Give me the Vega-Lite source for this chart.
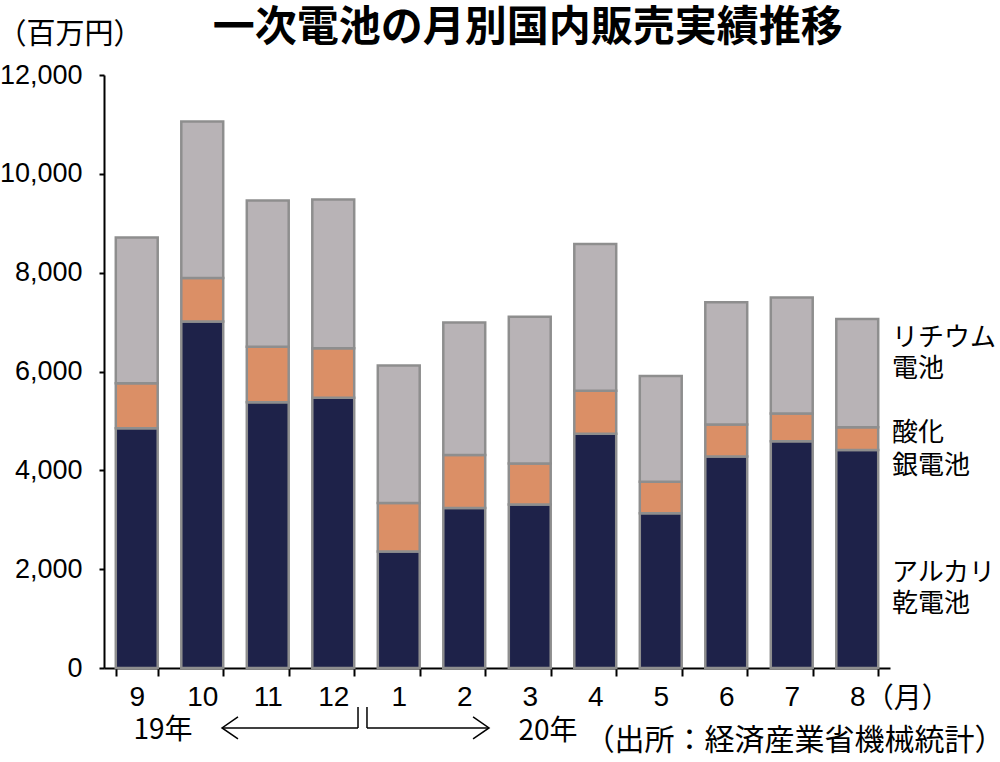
{
  "$schema": "https://vega.github.io/schema/vega-lite/v6.json",
  "width": 786,
  "height": 593,
  "autosize": "none",
  "padding": {"left": 104, "top": 75, "right": 110, "bottom": 94},
  "background": "white",
  "config": {
    "view": {"stroke": null},
    "axis": {
      "domainColor": "black",
      "domainWidth": 2,
      "tickColor": "black",
      "tickWidth": 2,
      "labelColor": "black",
      "grid": false
    }
  },
  "datasets": {
    "bars": [
      {"month": "9", "type": "アルカリ乾電池", "k": 1, "value": 4850},
      {"month": "9", "type": "酸化銀電池", "k": 2, "value": 910},
      {"month": "9", "type": "リチウム電池", "k": 3, "value": 2950},
      {"month": "10", "type": "アルカリ乾電池", "k": 1, "value": 7010},
      {"month": "10", "type": "酸化銀電池", "k": 2, "value": 880},
      {"month": "10", "type": "リチウム電池", "k": 3, "value": 3170},
      {"month": "11", "type": "アルカリ乾電池", "k": 1, "value": 5380},
      {"month": "11", "type": "酸化銀電池", "k": 2, "value": 1120},
      {"month": "11", "type": "リチウム電池", "k": 3, "value": 2960},
      {"month": "12", "type": "アルカリ乾電池", "k": 1, "value": 5470},
      {"month": "12", "type": "酸化銀電池", "k": 2, "value": 1000},
      {"month": "12", "type": "リチウム電池", "k": 3, "value": 3010},
      {"month": "1", "type": "アルカリ乾電池", "k": 1, "value": 2360},
      {"month": "1", "type": "酸化銀電池", "k": 2, "value": 980},
      {"month": "1", "type": "リチウム電池", "k": 3, "value": 2780},
      {"month": "2", "type": "アルカリ乾電池", "k": 1, "value": 3240},
      {"month": "2", "type": "酸化銀電池", "k": 2, "value": 1070},
      {"month": "2", "type": "リチウム電池", "k": 3, "value": 2680},
      {"month": "3", "type": "アルカリ乾電池", "k": 1, "value": 3310},
      {"month": "3", "type": "酸化銀電池", "k": 2, "value": 830},
      {"month": "3", "type": "リチウム電池", "k": 3, "value": 2970},
      {"month": "4", "type": "アルカリ乾電池", "k": 1, "value": 4740},
      {"month": "4", "type": "酸化銀電池", "k": 2, "value": 870},
      {"month": "4", "type": "リチウム電池", "k": 3, "value": 2970},
      {"month": "5", "type": "アルカリ乾電池", "k": 1, "value": 3130},
      {"month": "5", "type": "酸化銀電池", "k": 2, "value": 640},
      {"month": "5", "type": "リチウム電池", "k": 3, "value": 2140},
      {"month": "6", "type": "アルカリ乾電池", "k": 1, "value": 4280},
      {"month": "6", "type": "酸化銀電池", "k": 2, "value": 650},
      {"month": "6", "type": "リチウム電池", "k": 3, "value": 2470},
      {"month": "7", "type": "アルカリ乾電池", "k": 1, "value": 4590},
      {"month": "7", "type": "酸化銀電池", "k": 2, "value": 560},
      {"month": "7", "type": "リチウム電池", "k": 3, "value": 2350},
      {"month": "8", "type": "アルカリ乾電池", "k": 1, "value": 4410},
      {"month": "8", "type": "酸化銀電池", "k": 2, "value": 460},
      {"month": "8", "type": "リチウム電池", "k": 3, "value": 2190}
    ],
    "lines": [
      {"x": 3.878, "x2": 3.878, "y": -789, "y2": -1214},
      {"x": 3.878, "x2": 1.802, "y": -1214, "y2": -1214},
      {"x": 4.015, "x2": 4.015, "y": -789, "y2": -1214},
      {"x": 4.015, "x2": 5.878, "y": -1214, "y2": -1214}
    ],
    "headL": [{"x": 1.802, "y": -1214}],
    "headR": [{"x": 5.878, "y": -1214}],
    "legend": [
      {"label": "リチウム", "x": 12.03, "y": 6678},
      {"label": "電池", "x": 12.03, "y": 6051},
      {"label": "酸化", "x": 12.03, "y": 4755},
      {"label": "銀電池", "x": 12.03, "y": 4088},
      {"label": "アルカリ", "x": 12.03, "y": 1922},
      {"label": "乾電池", "x": 12.03, "y": 1295}
    ],
    "center": [
      {"label": "（月）", "x": 12.27, "y": -648},
      {"label": "19年", "x": 0.9, "y": -1275},
      {"label": "20年", "x": 6.78, "y": -1295}
    ],
    "unit": [{"label": "（百万円）", "x": -0.52, "y": 12809}],
    "title": [{"label": "一次電池の月別国内販売実績推移", "x": 6.47, "y": 12951}],
    "source": [{"label": "（出所：経済産業省機械統計）", "x": 13.75, "y": -1477}]
  },
  "layer": [
    {
      "data": {"name": "bars"},
      "mark": {"type": "bar", "stroke": "#8e8e8e", "strokeWidth": 2.5},
      "encoding": {
        "x": {
          "field": "month",
          "type": "nominal",
          "sort": ["9", "10", "11", "12", "1", "2", "3", "4", "5", "6", "7", "8"],
          "scale": {"paddingInner": 0.36, "paddingOuter": 0.18},
          "axis": {
            "title": null,
            "labelAngle": 0,
            "tickBand": "extent",
            "tickSize": 8,
            "labelPadding": 7,
            "labelFont": "Liberation Sans",
            "labelFontSize": 28
          }
        },
        "y": {
          "field": "value",
          "type": "quantitative",
          "stack": "zero",
          "title": null,
          "scale": {"domain": [0, 12000], "nice": false},
          "axis": {
            "values": [0, 2000, 4000, 6000, 8000, 10000, 12000],
            "labelExpr": "format(datum.value, ',')",
            "tickSize": 5,
            "labelPadding": 17,
            "labelFont": "Liberation Sans",
            "labelFontSize": 27
          }
        },
        "color": {
          "field": "type",
          "type": "nominal",
          "scale": {
            "domain": ["アルカリ乾電池", "酸化銀電池", "リチウム電池"],
            "range": ["#1e2249", "#db8f66", "#b8b3b6"]
          },
          "legend": null
        },
        "order": {"field": "k", "type": "quantitative"}
      }
    },
    {
      "data": {"name": "lines"},
      "mark": {"type": "rule", "color": "black", "strokeWidth": 1.5},
      "encoding": {
        "x": {"field": "x", "type": "quantitative", "scale": {"domain": [0, 12], "nice": false, "zero": false}, "axis": null},
        "x2": {"field": "x2"},
        "y": {"field": "y", "type": "quantitative", "scale": {"domain": [0, 12000], "nice": false}, "title": null},
        "y2": {"field": "y2"}
      }
    },
    {
      "data": {"name": "headL"},
      "mark": {"type": "point", "shape": "M1.45,-1L0,0L1.45,1", "filled": false, "stroke": "black", "strokeWidth": 1.5, "size": 484, "opacity": 1},
      "encoding": {
        "x": {"field": "x", "type": "quantitative", "scale": {"domain": [0, 12], "nice": false, "zero": false}, "axis": null},
        "y": {"field": "y", "type": "quantitative", "scale": {"domain": [0, 12000], "nice": false}, "title": null}
      }
    },
    {
      "data": {"name": "headR"},
      "mark": {"type": "point", "shape": "M-1.45,-1L0,0L-1.45,1", "filled": false, "stroke": "black", "strokeWidth": 1.5, "size": 484, "opacity": 1},
      "encoding": {
        "x": {"field": "x", "type": "quantitative", "scale": {"domain": [0, 12], "nice": false, "zero": false}, "axis": null},
        "y": {"field": "y", "type": "quantitative", "scale": {"domain": [0, 12000], "nice": false}, "title": null}
      }
    },
    {
      "data": {"name": "legend"},
      "mark": {"type": "text", "align": "left", "baseline": "middle", "font": "Noto Sans CJK JP", "fontSize": 26, "color": "black"},
      "encoding": {
        "x": {"field": "x", "type": "quantitative", "scale": {"domain": [0, 12], "nice": false, "zero": false}, "axis": null},
        "y": {"field": "y", "type": "quantitative", "scale": {"domain": [0, 12000], "nice": false}, "title": null},
        "text": {"field": "label"}
      }
    },
    {
      "data": {"name": "center"},
      "mark": {"type": "text", "align": "center", "baseline": "middle", "font": "Noto Sans CJK JP", "fontSize": 28, "color": "black"},
      "encoding": {
        "x": {"field": "x", "type": "quantitative", "scale": {"domain": [0, 12], "nice": false, "zero": false}, "axis": null},
        "y": {"field": "y", "type": "quantitative", "scale": {"domain": [0, 12000], "nice": false}, "title": null},
        "text": {"field": "label"}
      }
    },
    {
      "data": {"name": "unit"},
      "mark": {"type": "text", "align": "center", "baseline": "middle", "font": "Noto Sans CJK JP", "fontSize": 29, "color": "black"},
      "encoding": {
        "x": {"field": "x", "type": "quantitative", "scale": {"domain": [0, 12], "nice": false, "zero": false}, "axis": null},
        "y": {"field": "y", "type": "quantitative", "scale": {"domain": [0, 12000], "nice": false}, "title": null},
        "text": {"field": "label"}
      }
    },
    {
      "data": {"name": "title"},
      "mark": {"type": "text", "align": "center", "baseline": "middle", "font": "Noto Sans CJK JP", "fontSize": 42, "fontWeight": "bold", "color": "black"},
      "encoding": {
        "x": {"field": "x", "type": "quantitative", "scale": {"domain": [0, 12], "nice": false, "zero": false}, "axis": null},
        "y": {"field": "y", "type": "quantitative", "scale": {"domain": [0, 12000], "nice": false}, "title": null},
        "text": {"field": "label"}
      }
    },
    {
      "data": {"name": "source"},
      "mark": {"type": "text", "align": "right", "baseline": "middle", "font": "Noto Sans CJK JP", "fontSize": 30, "color": "black"},
      "encoding": {
        "x": {"field": "x", "type": "quantitative", "scale": {"domain": [0, 12], "nice": false, "zero": false}, "axis": null},
        "y": {"field": "y", "type": "quantitative", "scale": {"domain": [0, 12000], "nice": false}, "title": null},
        "text": {"field": "label"}
      }
    }
  ],
  "resolve": {"scale": {"x": "independent"}, "axis": {"x": "independent"}}
}
